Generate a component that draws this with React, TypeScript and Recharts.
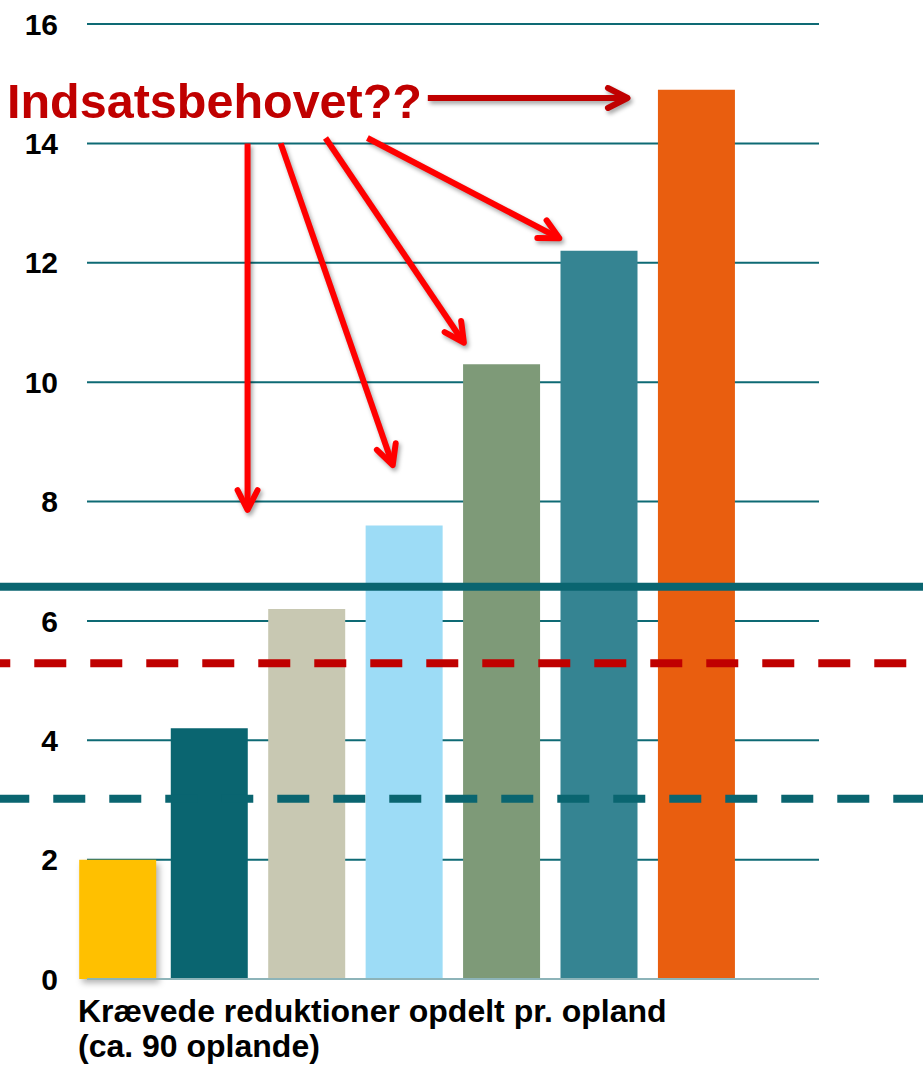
import React from 'react';
import {
  ComposedChart,
  Bar,
  Cell,
  XAxis,
  YAxis,
  CartesianGrid,
  ReferenceLine,
} from 'recharts';

// one bar per catchment group; x is the slot position
const slots = [1.06, 2, 3, 4, 5, 6, 7];
const reductions = [2.0, 4.2, 6.2, 7.6, 10.3, 12.2, 14.9];
const barColors = ['#FFC000', '#0A6570', '#C8C8B2', '#9DDCF6', '#7E9A78', '#358492', '#E95E0F'];
const yTicks = [0, 2, 4, 6, 8, 10, 12, 14, 16];

// the three horizontal levels that run across the whole slide
const solidLevel = 6.57;
const redDashedLevel = 5.29;
const tealDashedLevel = 3.02;

// "Indsatsbehovet??" arrows, in (slot, value) units
const arrowStarts = [
  [4.24, 14.76],
  [2.39, 14.0],
  [2.73, 14.0],
  [3.19, 14.09],
  [3.62, 14.09],
];
const arrowEnds = [
  [6.29, 14.76],
  [2.39, 7.86],
  [3.88, 8.61],
  [4.61, 10.66],
  [5.59, 12.41],
];
const arrowColors = ['#C00000', '#FF0000', '#FF0000', '#FF0000', '#FF0000'];

const chartData = slots.map((slot, i) => ({ slot, value: reductions[i] }));

const FONT = '"Liberation Sans", Arial, sans-serif';

function arrowShape(color: string) {
  return (p: any) => {
    const { x1, y1, x2, y2 } = p;
    const ang = Math.atan2(y2 - y1, x2 - x1);
    const len = 22;
    const spread = 0.47;
    const ax = x2 - len * Math.cos(ang - spread);
    const ay = y2 - len * Math.sin(ang - spread);
    const bx = x2 - len * Math.cos(ang + spread);
    const by = y2 - len * Math.sin(ang + spread);
    const sx = x2 - 3 * Math.cos(ang);
    const sy = y2 - 3 * Math.sin(ang);
    return (
      <g style={{ filter: 'drop-shadow(2px 3px 2px rgba(0,0,0,0.35))' }}>
        <line x1={x1} y1={y1} x2={sx} y2={sy} stroke={color} strokeWidth={6} />
        <polyline
          points={`${ax},${ay} ${x2},${y2} ${bx},${by}`}
          fill="none"
          stroke={color}
          strokeWidth={6}
          strokeLinecap="round"
          strokeLinejoin="round"
        />
      </g>
    );
  };
}

export default function App() {
  return (
    <div style={{ position: 'absolute', left: 0, top: 0, width: 923, height: 1066, background: '#fff', fontFamily: FONT }}>
      <ComposedChart
        width={923}
        height={1066}
        data={chartData}
        margin={{ top: 24, right: 104, bottom: 87, left: 0 }}
      >
        <CartesianGrid horizontal vertical={false} stroke="#0E6A74" strokeWidth={2} />
        <XAxis dataKey="slot" type="number" domain={[0.742, 8.255]} hide />
        <YAxis
          type="number"
          domain={[0, 16]}
          ticks={yTicks}
          width={87}
          axisLine={false}
          tickLine={false}
          tickSize={6}
          tickMargin={23}
          tick={{ fill: '#000', fontSize: 30, fontWeight: 'bold', fontFamily: FONT }}
        />
        <ReferenceLine y={0} stroke="#8DB4B9" strokeWidth={2} />
        <Bar dataKey="value" barSize={77} isAnimationActive={false}>
          {chartData.map((d, i) => (
            <Cell
              key={d.slot}
              fill={barColors[i]}
              style={i === 0 ? { filter: 'drop-shadow(3px 4px 3px rgba(0,0,0,0.3))' } : undefined}
            />
          ))}
        </Bar>

        <ReferenceLine
          segment={[{ x: -1, y: solidLevel }, { x: 11, y: solidLevel }]}
          ifOverflow="visible"
          stroke="#0A6570"
          strokeWidth={8}
        />
        <ReferenceLine
          segment={[{ x: -1, y: redDashedLevel }, { x: 11, y: redDashedLevel }]}
          ifOverflow="visible"
          stroke="#C00000"
          strokeWidth={8}
          strokeDasharray="32 24"
          strokeDashoffset={51}
        />
        <ReferenceLine
          segment={[{ x: -1, y: tealDashedLevel }, { x: 11, y: tealDashedLevel }]}
          ifOverflow="visible"
          stroke="#0A6570"
          strokeWidth={8}
          strokeDasharray="32 24"
          strokeDashoffset={32}
        />

        {arrowStarts.map((s, i) => (
          <ReferenceLine
            key={`arrow-${i}`}
            segment={[{ x: s[0], y: s[1] }, { x: arrowEnds[i][0], y: arrowEnds[i][1] }]}
            ifOverflow="visible"
            shape={arrowShape(arrowColors[i])}
          />
        ))}
      </ComposedChart>

      <div
        style={{
          position: 'absolute',
          left: 7,
          top: 77,
          fontSize: 48.5,
          lineHeight: '48px',
          fontWeight: 'bold',
          color: '#C00000',
          whiteSpace: 'nowrap',
        }}
      >
        Indsatsbehovet??
      </div>

      <div
        style={{
          position: 'absolute',
          left: 78,
          top: 994,
          fontSize: 32,
          lineHeight: '35px',
          fontWeight: 'bold',
          color: '#000',
          whiteSpace: 'nowrap',
        }}
      >
        Krævede reduktioner opdelt pr. opland
        <br />
        (ca. 90 oplande)
      </div>
    </div>
  );
}
